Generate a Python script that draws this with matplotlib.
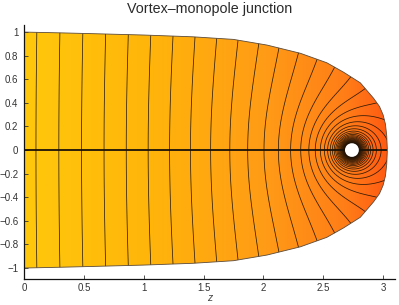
import numpy as np
import matplotlib
matplotlib.use('Agg')
import matplotlib.pyplot as plt
from matplotlib.colors import LinearSegmentedColormap
from matplotlib.patches import Polygon, Circle

plt.rcParams['font.family'] = ['Liberation Sans', 'DejaVu Sans']

# ---- text ----
title = "Vortex\u2013monopole junction"
xlabel = "z"
xticks = [0, 0.5, 1, 1.5, 2, 2.5, 3]
xticklabels = ["0", "0.5", "1", "1.5", "2", "2.5", "3"]
yticks = [-1, -0.8, -0.6, -0.4, -0.2, 0, 0.2, 0.4, 0.6, 0.8, 1]
yticklabels = ["\u22121", "\u22120.8", "\u22120.6", "\u22120.4", "\u22120.2", "0",
               "0.2", "0.4", "0.6", "0.8", "1"]

# ---- domain boundary (z, rho) ----
bound_z = [0.0, 0.32, 0.63, 1.0, 1.41, 1.75, 2.03, 2.31, 2.53, 2.67, 2.81, 2.92,
           2.97, 3.0, 3.02, 3.031, 3.036]
bound_rho = [1.0, 0.993, 0.985, 0.975, 0.96, 0.938, 0.89, 0.82, 0.74, 0.66, 0.57, 0.44,
             0.37, 0.30, 0.22, 0.12, 0.0]

# ---- monopole / potential parameters ----
z_mono = 2.74
q_mono = 0.3
r_core = 0.058
level_start = 0.2136
level_step = 0.2
n_levels = 42

# ---- fill colour stops along z ----
color_z = [0.0, 1.0, 2.0, 2.7, 3.05]
color_hex = ['#FFC80C', '#FFB60A', '#FF9C16', '#FF7D18', '#FF5A12']

fig = plt.figure(figsize=(3.99, 3.05), dpi=100)
ax = fig.add_axes([24/399, 1-279/305, (395-24)/399, (279-25)/305])
xmin, xmax = 0.0, 3.1
ymin, ymax = -1.093, 1.06
ax.set_xlim(xmin, xmax)
ax.set_ylim(ymin, ymax)

# domain polygon
upper = list(zip(bound_z, bound_rho))
lower = [(z, -r) for z, r in zip(bound_z[::-1][1:], bound_rho[::-1][1:])]
poly_pts = upper + lower
clip = Polygon(poly_pts, closed=True, transform=ax.transData, fc='none', ec='none')
ax.add_patch(clip)

# fill colour
cmap = LinearSegmentedColormap.from_list(
    'fill', [(c / color_z[-1], h) for c, h in zip(color_z, color_hex)])
zz = np.linspace(0, 3.1, 700)
rr = np.linspace(-1.05, 1.05, 600)
Z, R = np.meshgrid(zz, rr)
im = ax.imshow(Z, extent=[0, 3.1, -1.05, 1.05], origin='lower', cmap=cmap,
               vmin=0, vmax=color_z[-1], aspect='auto', interpolation='bilinear', zorder=1)
im.set_clip_path(clip)

# potential contours
phi = Z + q_mono / np.sqrt((Z - z_mono) ** 2 + R ** 2 + 1e-12)
levels = level_start + level_step * np.arange(n_levels)
cs = ax.contour(Z, R, phi, levels=levels, colors='#1a1005', linewidths=0.55, alpha=0.9, zorder=2)
cs.set_clip_path(clip)

# axis line at rho=0
ax.plot([0, bound_z[-1]], [0, 0], color='#1a1208', lw=1.3, zorder=3, solid_capstyle='butt')

# boundary outline
outline = Polygon(poly_pts, closed=True, fill=False, ec='#5a4a3a', lw=0.6, zorder=3)
ax.add_patch(outline)

# monopole core
ax.add_patch(Circle((z_mono, 0), r_core, fc='white', ec='none', zorder=4))

# axes styling
for s in ['top', 'right']:
    ax.spines[s].set_visible(False)
for s in ['left', 'bottom']:
    ax.spines[s].set_color('#111111')
    ax.spines[s].set_linewidth(0.9)
    ax.spines[s].set_zorder(5)
ax.set_xticks(xticks)
ax.set_xticklabels(xticklabels)
ax.set_yticks(yticks)
ax.set_yticklabels(yticklabels)
ax.tick_params(direction='in', length=3, width=0.6, color='#333333',
               labelsize=7, labelcolor='#333333')
ax.tick_params(axis='y', pad=4)
ax.tick_params(axis='x', pad=3)

fig.text(210/399, 1-298/305, xlabel, ha='center', va='center', fontsize=7.5,
         color='#444444', style='italic')
fig.text(210/399, 1-9/305, title, ha='center', va='center', fontsize=10.3, color='#2a2a2a')

fig.savefig('out.png', dpi=100)
